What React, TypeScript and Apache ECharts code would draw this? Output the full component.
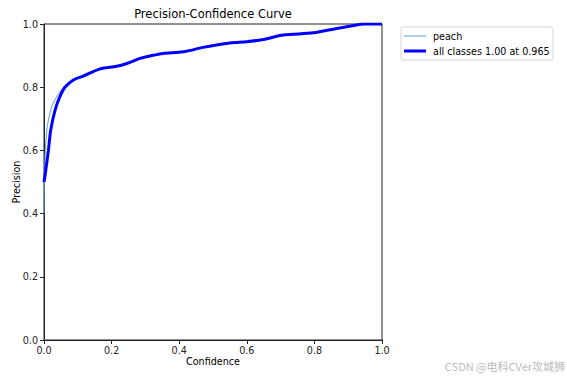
import React, { useEffect, useRef } from "react";
import * as echarts from "echarts";

const titleText = "Precision-Confidence Curve";
const xLabel = "Confidence";
const yLabel = "Precision";

const peachConf = [0.0, 0.001, 0.004, 0.008, 0.012, 0.018, 0.025, 0.035, 0.047, 0.062, 0.087, 0.116, 0.166, 0.215, 0.245, 0.284, 0.314, 0.352, 0.412, 0.471, 0.55, 0.6, 0.649, 0.708, 0.797, 0.866, 0.925, 0.944, 0.97, 1.0];
const peachPrec = [0.4, 0.5, 0.6, 0.66, 0.69, 0.72, 0.745, 0.765, 0.785, 0.805, 0.824, 0.836, 0.858, 0.866, 0.875, 0.891, 0.899, 0.907, 0.912, 0.926, 0.94, 0.944, 0.951, 0.965, 0.972, 0.986, 0.997, 1.0, 1.0, 1.0];

const allConf = [0.0, 0.003, 0.013, 0.02, 0.033, 0.047, 0.062, 0.087, 0.116, 0.166, 0.215, 0.245, 0.284, 0.314, 0.352, 0.412, 0.471, 0.55, 0.6, 0.649, 0.708, 0.797, 0.866, 0.925, 0.944, 0.97, 1.0];
const allPrec = [0.5, 0.52, 0.6, 0.665, 0.728, 0.77, 0.8, 0.823, 0.835, 0.858, 0.866, 0.875, 0.891, 0.899, 0.907, 0.912, 0.926, 0.94, 0.944, 0.951, 0.965, 0.972, 0.986, 0.997, 1.0, 1.0, 1.0];

const legendNames = ["peach", "all classes 1.00 at 0.965"];
const watermark = "CSDN @电科CVer攻城狮";

const FONT = "DejaVu Sans";
const FS = 9.6;

export default function App() {
  const ref = useRef<HTMLDivElement>(null);
  useEffect(() => {
    if (!ref.current) return;
    const chart = echarts.init(ref.current, null, { renderer: "svg" });
    const axisCommon = {
      type: "value" as const,
      min: 0,
      max: 1,
      interval: 0.2,
      axisLine: { show: true, onZero: false, lineStyle: { color: "#222", width: 1 } },
      axisTick: { show: true, length: 4, inside: false, lineStyle: { color: "#222" } },
      splitLine: { show: false },
      axisLabel: {
        color: "#222",
        fontFamily: FONT,
        fontSize: FS,
        formatter: (v: number) => v.toFixed(1),
      },
    };
    chart.setOption({
      animation: false,
      backgroundColor: "#fff",
      title: {
        text: titleText,
        left: 213,
        top: 8,
        padding: 0,
        textAlign: "center",
        textStyle: { fontFamily: FONT, fontSize: 11.5, fontWeight: "normal", color: "#000" },
      },
      grid: {
        left: 44, right: 185, top: 24, bottom: 38,
        outerBoundsMode: "none",
        containLabel: false,
        show: true, borderColor: "#222", borderWidth: 1,
      },
      xAxis: {
        ...axisCommon,
        name: xLabel,
        nameLocation: "middle",
        nameGap: 16,
        nameMoveOverlap: false,
        nameTextStyle: { fontFamily: FONT, fontSize: FS, color: "#000" },
        axisLabel: { ...axisCommon.axisLabel, margin: 5 },
      },
      yAxis: {
        ...axisCommon,
        name: yLabel,
        nameLocation: "middle",
        nameGap: 23,
        nameMoveOverlap: false,
        nameTextStyle: { fontFamily: FONT, fontSize: FS, color: "#000" },
        axisLabel: { ...axisCommon.axisLabel, margin: 6 },
      },
      series: [
        {
          type: "line",
          name: legendNames[0],
          data: peachConf.map((c, i) => [c, peachPrec[i]]),
          showSymbol: false,
          symbol: "none",
          smooth: 0.3,
          lineStyle: { color: "#5d9fd3", width: 1 },
          z: 2,
        },
        {
          type: "line",
          name: legendNames[1],
          data: allConf.map((c, i) => [c, allPrec[i]]),
          showSymbol: false,
          symbol: "none",
          smooth: 0.3,
          lineStyle: { color: "#0000ff", width: 3 },
          z: 3,
        },
      ],
      graphic: [
        {
          type: "rect",
          shape: { x: 401, y: 27, width: 152, height: 33, r: 2 },
          style: { fill: "#fff", stroke: "#d6d6d6", lineWidth: 1 },
        },
        {
          type: "line",
          shape: { x1: 404, y1: 36, x2: 426, y2: 36 },
          style: { stroke: "#5d9fd3", lineWidth: 1 },
        },
        {
          type: "text",
          x: 433,
          y: 36,
          style: { text: legendNames[0], fontFamily: FONT, fontSize: FS, fill: "#000", verticalAlign: "middle" },
        },
        {
          type: "line",
          shape: { x1: 404, y1: 51, x2: 426, y2: 51 },
          style: { stroke: "#0000ff", lineWidth: 3 },
        },
        {
          type: "text",
          x: 433,
          y: 51,
          style: { text: legendNames[1], fontFamily: FONT, fontSize: FS, fill: "#000", verticalAlign: "middle" },
        },
        {
          type: "text",
          right: 2,
          top: 360,
          style: { text: watermark, fontFamily: "Noto Sans CJK SC", fontSize: 11, fill: "#bbbbbb" },
        },
      ],
    });
    return () => chart.dispose();
  }, []);
  return <div ref={ref} style={{ width: 567, height: 378, position: "fixed", left: 0, top: 0 }} />;
}
